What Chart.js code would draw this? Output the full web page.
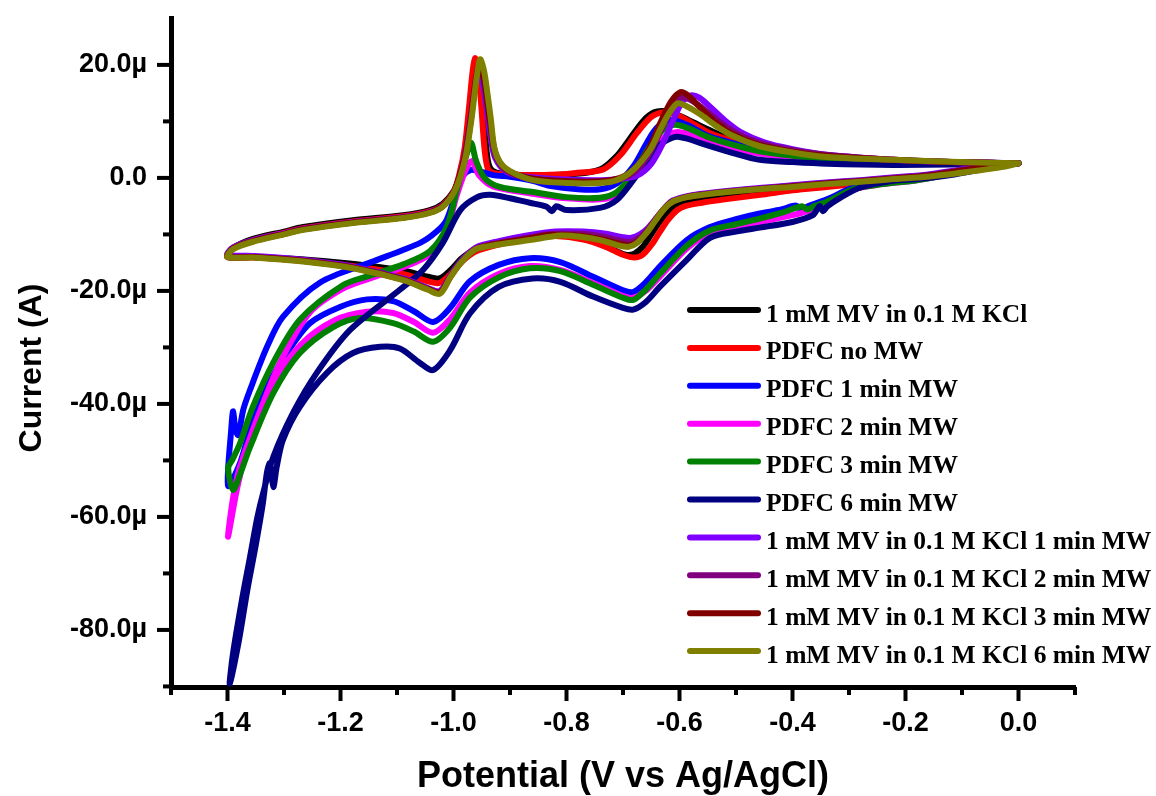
<!DOCTYPE html>
<html>
<head>
<meta charset="utf-8">
<script src="https://cdn.jsdelivr.net/npm/chart.js@4.4.1/dist/chart.umd.min.js"></script>
<style>
  html, body { margin: 0; padding: 0; background: #fff; }
  #wrap { width: 1156px; height: 796px; }
</style>
</head>
<body>
<div id="wrap"><canvas id="cv" width="1156" height="796"></canvas></div>
<script>
// potential (V) / current (µA) pairs, cathodic sweep first then back to 0 V
const mvKcl = [
  [0.0, 2.6], [-0.05, 2.1], [-0.10, 1.3], [-0.16, 0.3], [-0.22, -0.3], [-0.28, -0.9], [-0.34, -1.4], [-0.40, -1.9],
  [-0.46, -2.5], [-0.52, -3.1], [-0.56, -3.7], [-0.59, -4.4], [-0.615, -5.6], [-0.635, -7.8], [-0.65, -10.0], [-0.665, -12.2],
  [-0.68, -13.4], [-0.695, -13.6], [-0.715, -12.8], [-0.745, -11.5], [-0.78, -10.5], [-0.83, -10.2], [-0.87, -10.6], [-0.92, -11.6],
  [-0.96, -12.6], [-0.985, -14.2], [-1.005, -16.3], [-1.025, -17.8], [-1.045, -17.5], [-1.09, -16.4], [-1.18, -15.2], [-1.27, -14.4],
  [-1.355, -14.0], [-1.40, -13.9],
  [-1.39, -12.4], [-1.355, -10.8], [-1.30, -9.5], [-1.266, -8.7], [-1.178, -7.5], [-1.089, -6.6], [-1.042, -5.7], [-1.019, -4.6],
  [-1.0, -2.4], [-0.99, 0.0], [-0.98, 4.0], [-0.97, 11.0], [-0.962, 17.5], [-0.957, 20.0], [-0.951, 16.0], [-0.945, 9.0],
  [-0.939, 3.0], [-0.93, 1.2], [-0.90, 0.6], [-0.85, 0.5], [-0.80, 0.6], [-0.76, 1.0], [-0.735, 1.8], [-0.71, 4.0],
  [-0.693, 6.2], [-0.665, 10.0], [-0.645, 11.6], [-0.625, 11.8], [-0.60, 11.0], [-0.575, 9.8], [-0.55, 8.6], [-0.52, 7.3],
  [-0.47, 5.8], [-0.40, 4.6], [-0.32, 3.7], [-0.22, 3.1], [-0.12, 2.8], [0.0, 2.6]
];
const pdfcNoMw = [
  [0.0, 2.6], [-0.05, 2.1], [-0.10, 1.2], [-0.16, 0.2], [-0.22, -0.4], [-0.28, -1.0], [-0.34, -1.6], [-0.40, -2.2],
  [-0.457, -3.0], [-0.52, -3.8], [-0.56, -4.4], [-0.59, -5.0], [-0.604, -5.7], [-0.62, -7.4], [-0.635, -9.6], [-0.647, -11.5],
  [-0.665, -13.6], [-0.68, -14.1], [-0.70, -13.6], [-0.73, -12.2], [-0.77, -10.9], [-0.82, -10.3], [-0.87, -10.7], [-0.92, -11.8],
  [-0.96, -13.0], [-0.985, -14.8], [-1.005, -17.0], [-1.025, -18.6], [-1.045, -18.3], [-1.09, -17.0], [-1.18, -15.6], [-1.27, -14.6],
  [-1.355, -14.1], [-1.40, -14.0],
  [-1.39, -12.5], [-1.355, -11.0], [-1.30, -9.7], [-1.266, -8.9], [-1.178, -7.7], [-1.089, -6.8], [-1.042, -5.9], [-1.019, -4.8],
  [-1.0, -2.5], [-0.99, 0.5], [-0.98, 5.5], [-0.972, 13.0], [-0.966, 19.0], [-0.962, 21.2], [-0.957, 19.5], [-0.951, 13.0],
  [-0.945, 5.0], [-0.939, 1.6], [-0.93, 0.9], [-0.90, 0.6], [-0.85, 0.5], [-0.80, 0.7], [-0.78, 0.9], [-0.735, 1.5],
  [-0.705, 4.0], [-0.675, 8.0], [-0.65, 10.8], [-0.63, 11.6], [-0.612, 11.4], [-0.59, 10.4], [-0.546, 7.9], [-0.50, 6.4],
  [-0.45, 5.3], [-0.40, 4.5], [-0.32, 3.7], [-0.22, 3.1], [-0.12, 2.8], [0.0, 2.6]
];
const pdfc1Min = [
  [0.0, 2.6], [-0.06, 1.9], [-0.12, 0.9], [-0.18, -0.2], [-0.24, -0.8], [-0.29, -1.6], [-0.339, -3.8], [-0.372, -5.0],
  [-0.385, -5.6], [-0.394, -4.9], [-0.42, -5.6], [-0.458, -6.3], [-0.50, -7.3], [-0.546, -8.7], [-0.587, -11.0], [-0.635, -15.7],
  [-0.66, -18.5], [-0.682, -20.2], [-0.70, -19.9], [-0.753, -17.5], [-0.811, -14.9], [-0.865, -14.2], [-0.92, -15.4], [-0.971, -18.3],
  [-1.006, -23.0], [-1.036, -25.5], [-1.07, -23.6], [-1.107, -21.8], [-1.153, -21.5], [-1.20, -22.8], [-1.254, -25.7], [-1.295, -31.0],
  [-1.33, -37.0], [-1.36, -44.6], [-1.378, -50.5], [-1.399, -54.5],
  [-1.393, -44.0], [-1.39, -41.3], [-1.386, -44.5], [-1.381, -45.5], [-1.372, -41.0], [-1.36, -37.5], [-1.33, -29.9], [-1.302, -24.6],
  [-1.236, -18.5], [-1.148, -15.0], [-1.059, -11.5], [-1.03, -9.5], [-1.012, -7.4], [-0.994, -2.1], [-0.983, 0.4], [-0.97, 1.4],
  [-0.955, 1.2], [-0.93, 0.5], [-0.90, 0.2], [-0.86, -0.5], [-0.83, -1.4], [-0.78, -2.0], [-0.74, -2.0], [-0.71, -0.9],
  [-0.682, 2.0], [-0.66, 5.8], [-0.645, 8.3], [-0.627, 9.9], [-0.61, 10.2], [-0.585, 9.3], [-0.546, 7.3], [-0.50, 6.0],
  [-0.458, 5.0], [-0.40, 4.2], [-0.339, 3.5], [-0.222, 3.0], [-0.10, 2.8], [0.0, 2.6]
];
const pdfc2Min = [
  [0.0, 2.6], [-0.06, 1.8], [-0.12, 0.7], [-0.18, -0.4], [-0.24, -1.1], [-0.29, -2.0], [-0.339, -4.6], [-0.37, -5.8],
  [-0.40, -6.6], [-0.458, -7.8], [-0.50, -8.7], [-0.546, -9.8], [-0.587, -12.5], [-0.635, -17.5], [-0.66, -20.0], [-0.682, -21.2],
  [-0.70, -20.9], [-0.753, -18.6], [-0.811, -16.3], [-0.865, -15.6], [-0.92, -17.0], [-0.971, -20.3], [-1.006, -25.0], [-1.036, -27.4],
  [-1.07, -25.5], [-1.107, -23.9], [-1.153, -23.7], [-1.21, -25.2], [-1.27, -29.5], [-1.32, -36.5], [-1.36, -46.0], [-1.382, -54.5],
  [-1.399, -63.5],
  [-1.39, -56.5], [-1.378, -51.2], [-1.348, -42.8], [-1.307, -32.7], [-1.254, -23.8], [-1.196, -19.6], [-1.148, -17.8], [-1.089, -15.8],
  [-1.042, -13.5], [-1.012, -9.0], [-0.994, -3.0], [-0.978, 1.5], [-0.967, 3.0], [-0.955, 0.5], [-0.93, -1.5], [-0.86, -2.8],
  [-0.80, -3.6], [-0.74, -3.8], [-0.71, -2.8], [-0.68, 0.5], [-0.65, 4.5], [-0.625, 7.3], [-0.605, 8.1], [-0.58, 7.6],
  [-0.546, 6.3], [-0.50, 5.1], [-0.458, 4.3], [-0.40, 3.6], [-0.339, 3.1], [-0.222, 2.7], [-0.10, 2.6], [0.0, 2.6]
];
const pdfc3Min = [
  [0.0, 2.6], [-0.06, 1.8], [-0.12, 0.7], [-0.18, -0.4], [-0.24, -1.1], [-0.29, -1.9], [-0.339, -4.2], [-0.362, -5.0],
  [-0.374, -5.6], [-0.383, -5.0], [-0.42, -6.2], [-0.458, -7.2], [-0.50, -8.2], [-0.546, -9.3], [-0.587, -12.0], [-0.635, -17.0],
  [-0.66, -19.8], [-0.682, -21.6], [-0.70, -21.2], [-0.753, -18.9], [-0.811, -16.5], [-0.865, -16.0], [-0.92, -17.6], [-0.971, -21.2],
  [-1.006, -26.5], [-1.036, -29.0], [-1.07, -27.2], [-1.107, -25.7], [-1.165, -24.8], [-1.213, -26.4], [-1.272, -31.0], [-1.319, -38.1],
  [-1.36, -47.6], [-1.378, -52.5], [-1.39, -55.2], [-1.399, -51.3],
  [-1.392, -50.0], [-1.378, -47.0], [-1.355, -40.5], [-1.319, -32.7], [-1.272, -25.1], [-1.196, -19.0], [-1.148, -17.3], [-1.089, -15.3],
  [-1.042, -13.0], [-1.012, -8.7], [-0.994, -2.1], [-0.98, 3.0], [-0.969, 6.2], [-0.96, 3.0], [-0.945, 0.0], [-0.918, -1.6],
  [-0.859, -2.5], [-0.80, -3.4], [-0.741, -3.5], [-0.711, -2.5], [-0.682, 0.9], [-0.653, 5.5], [-0.628, 8.6], [-0.608, 9.4],
  [-0.585, 8.8], [-0.546, 7.1], [-0.50, 5.7], [-0.458, 4.7], [-0.40, 3.9], [-0.339, 3.3], [-0.222, 2.8], [-0.10, 2.7], [0.0, 2.6]
];
const pdfc6Min = [
  [0.0, 2.6], [-0.06, 1.6], [-0.12, 0.5], [-0.18, -0.2], [-0.222, -0.5], [-0.28, -1.7], [-0.32, -3.8], [-0.339, -5.1],
  [-0.346, -5.9], [-0.352, -5.0], [-0.364, -6.6], [-0.40, -7.8], [-0.458, -8.8], [-0.50, -9.5], [-0.546, -10.6], [-0.587, -14.5],
  [-0.635, -19.3], [-0.66, -22.0], [-0.682, -23.3], [-0.70, -23.0], [-0.753, -21.0], [-0.811, -18.4], [-0.86, -17.8], [-0.92, -19.3],
  [-0.971, -24.0], [-1.006, -30.5], [-1.036, -34.0], [-1.06, -32.7], [-1.095, -30.2], [-1.13, -29.9], [-1.178, -31.0], [-1.224, -34.5],
  [-1.272, -40.5], [-1.302, -46.4], [-1.313, -51.2], [-1.319, -54.7], [-1.325, -50.5], [-1.33, -52.0], [-1.338, -58.0], [-1.35, -65.0],
  [-1.365, -73.0], [-1.38, -82.0], [-1.396, -89.5],
  [-1.39, -84.0], [-1.375, -75.0], [-1.36, -67.0], [-1.347, -60.0], [-1.337, -55.8], [-1.319, -49.4], [-1.284, -41.6], [-1.242, -34.5],
  [-1.183, -26.9], [-1.095, -19.8], [-1.054, -16.3], [-1.019, -11.5], [-0.988, -5.7], [-0.958, -3.4], [-0.935, -3.0], [-0.90, -3.6],
  [-0.865, -4.4], [-0.835, -5.1], [-0.826, -5.9], [-0.818, -5.0], [-0.80, -5.7], [-0.741, -5.3], [-0.711, -3.9], [-0.682, -0.4],
  [-0.652, 3.7], [-0.635, 5.8], [-0.622, 6.7], [-0.605, 7.3], [-0.585, 6.9], [-0.564, 6.2], [-0.505, 4.4], [-0.458, 3.2],
  [-0.40, 2.8], [-0.339, 2.5], [-0.222, 2.3], [-0.10, 2.4], [0.0, 2.6]
];
const mv1Min = [
  [0.0, 2.6], [-0.05, 2.2], [-0.10, 1.5], [-0.16, 0.6], [-0.22, 0.1], [-0.28, -0.4], [-0.34, -0.8], [-0.40, -1.3],
  [-0.46, -1.8], [-0.516, -2.3], [-0.56, -2.8], [-0.59, -3.3], [-0.612, -4.0], [-0.625, -5.2], [-0.64, -7.0], [-0.655, -8.8],
  [-0.67, -10.0], [-0.685, -10.6], [-0.70, -10.5], [-0.73, -9.9], [-0.77, -9.5], [-0.82, -9.5], [-0.87, -10.2], [-0.92, -11.2],
  [-0.96, -12.3], [-0.985, -14.5], [-1.005, -17.2], [-1.024, -20.0], [-1.045, -19.5], [-1.089, -17.8], [-1.178, -15.7], [-1.266, -14.5],
  [-1.355, -13.8], [-1.40, -13.6],
  [-1.39, -12.3], [-1.355, -11.0], [-1.30, -9.8], [-1.266, -9.0], [-1.178, -7.8], [-1.089, -6.9], [-1.042, -6.0], [-1.019, -4.9],
  [-1.0, -2.6], [-0.99, 0.0], [-0.98, 4.0], [-0.97, 10.0], [-0.962, 16.0], [-0.955, 19.0], [-0.948, 16.5], [-0.941, 12.0],
  [-0.934, 7.0], [-0.926, 3.5], [-0.905, 1.0], [-0.87, 0.2], [-0.80, -0.3], [-0.74, -0.4], [-0.70, -0.1], [-0.675, 0.4],
  [-0.65, 2.5], [-0.63, 6.0], [-0.61, 10.5], [-0.595, 13.5], [-0.58, 14.6], [-0.565, 14.2], [-0.545, 12.5], [-0.52, 10.2],
  [-0.49, 8.0], [-0.45, 6.3], [-0.40, 5.1], [-0.34, 4.1], [-0.22, 3.2], [-0.12, 2.8], [0.0, 2.6]
];
const mv2Min = [
  [0.0, 2.6], [-0.05, 2.1], [-0.10, 1.4], [-0.16, 0.5], [-0.22, 0.0], [-0.28, -0.5], [-0.34, -0.9], [-0.40, -1.4],
  [-0.46, -1.9], [-0.516, -2.4], [-0.56, -2.9], [-0.59, -3.4], [-0.613, -4.2], [-0.628, -5.5], [-0.643, -7.4], [-0.658, -9.4],
  [-0.673, -10.7], [-0.688, -11.3], [-0.705, -11.1], [-0.735, -10.4], [-0.775, -9.9], [-0.825, -9.9], [-0.87, -10.6], [-0.92, -11.5],
  [-0.96, -12.5], [-0.985, -14.7], [-1.005, -17.4], [-1.024, -20.2], [-1.045, -19.6], [-1.089, -17.9], [-1.178, -15.8], [-1.266, -14.6],
  [-1.355, -14.0], [-1.40, -13.9],
  [-1.39, -12.4], [-1.355, -11.1], [-1.30, -9.9], [-1.266, -9.1], [-1.178, -7.9], [-1.089, -7.0], [-1.042, -6.1], [-1.019, -5.0],
  [-1.0, -2.6], [-0.99, 0.1], [-0.98, 4.0], [-0.97, 10.5], [-0.961, 17.0], [-0.954, 20.0], [-0.947, 17.5], [-0.94, 13.0],
  [-0.933, 8.0], [-0.925, 3.8], [-0.905, 1.2], [-0.87, 0.0], [-0.80, -0.6], [-0.74, -0.7], [-0.705, -0.2], [-0.68, 1.0],
  [-0.655, 4.0], [-0.635, 8.0], [-0.615, 12.0], [-0.598, 14.2], [-0.585, 14.0], [-0.565, 12.8], [-0.54, 10.8], [-0.51, 8.6],
  [-0.47, 6.6], [-0.42, 5.3], [-0.35, 4.2], [-0.22, 3.2], [-0.12, 2.8], [0.0, 2.6]
];
const mv3Min = [
  [0.0, 2.6], [-0.05, 2.0], [-0.10, 1.3], [-0.16, 0.4], [-0.22, -0.1], [-0.28, -0.6], [-0.34, -1.0], [-0.40, -1.5],
  [-0.46, -2.0], [-0.516, -2.5], [-0.56, -3.0], [-0.59, -3.5], [-0.614, -4.3], [-0.629, -5.7], [-0.644, -7.7], [-0.659, -9.8],
  [-0.674, -11.3], [-0.689, -11.9], [-0.708, -11.6], [-0.74, -10.8], [-0.78, -10.2], [-0.83, -10.1], [-0.87, -10.8], [-0.92, -11.6],
  [-0.96, -12.6], [-0.985, -14.8], [-1.005, -17.4], [-1.024, -20.3], [-1.045, -19.7], [-1.089, -18.0], [-1.178, -15.9], [-1.266, -14.7],
  [-1.355, -14.0], [-1.40, -14.0],
  [-1.39, -12.5], [-1.355, -11.2], [-1.30, -9.9], [-1.266, -9.1], [-1.178, -7.9], [-1.089, -7.0], [-1.042, -6.1], [-1.019, -5.0],
  [-1.0, -2.6], [-0.99, 0.1], [-0.979, 4.0], [-0.969, 10.5], [-0.961, 17.0], [-0.954, 20.5], [-0.947, 18.0], [-0.941, 14.0],
  [-0.934, 9.0], [-0.926, 4.5], [-0.908, 1.6], [-0.87, 0.1], [-0.80, -0.6], [-0.74, -0.6], [-0.705, 0.0], [-0.68, 1.6],
  [-0.655, 5.0], [-0.635, 9.5], [-0.615, 13.5], [-0.598, 15.2], [-0.585, 14.6], [-0.565, 12.6], [-0.54, 10.2], [-0.51, 8.0],
  [-0.47, 6.2], [-0.42, 5.0], [-0.35, 4.0], [-0.22, 3.2], [-0.12, 2.8], [0.0, 2.6]
];
const mv6Min = [
  [0.0, 2.6], [-0.03, 1.9], [-0.08, 1.2], [-0.162, 0.2], [-0.22, -0.2], [-0.28, -0.7], [-0.34, -1.1], [-0.40, -1.6],
  [-0.46, -2.0], [-0.516, -2.5], [-0.56, -3.0], [-0.587, -3.4], [-0.612, -4.2], [-0.629, -5.7], [-0.643, -7.6], [-0.658, -9.7],
  [-0.675, -11.5], [-0.69, -12.2], [-0.71, -11.9], [-0.74, -11.0], [-0.776, -10.4], [-0.81, -10.2], [-0.865, -11.0], [-0.92, -11.8],
  [-0.96, -12.6], [-0.985, -14.8], [-1.005, -17.5], [-1.024, -20.5], [-1.045, -19.8], [-1.089, -18.1], [-1.178, -16.0], [-1.266, -14.8],
  [-1.355, -14.1], [-1.40, -14.0],
  [-1.39, -12.6], [-1.355, -11.3], [-1.30, -10.0], [-1.266, -9.2], [-1.178, -8.0], [-1.089, -7.1], [-1.042, -6.2], [-1.019, -5.1],
  [-1.0, -2.7], [-0.988, 0.2], [-0.978, 4.0], [-0.968, 10.5], [-0.96, 17.0], [-0.953, 21.0], [-0.946, 19.0], [-0.94, 15.0],
  [-0.934, 10.5], [-0.928, 5.5], [-0.918, 2.8], [-0.90, 1.2], [-0.859, -0.4], [-0.80, -0.9], [-0.741, -0.9], [-0.711, -0.4],
  [-0.682, 1.4], [-0.652, 5.0], [-0.635, 8.4], [-0.62, 11.2], [-0.604, 13.2], [-0.59, 12.8], [-0.564, 11.3], [-0.535, 9.2],
  [-0.505, 7.4], [-0.458, 5.6], [-0.40, 4.5], [-0.339, 3.7], [-0.222, 3.2], [-0.104, 2.8], [0.0, 2.6]
];

const seriesLabels = [
  "1 mM MV in 0.1 M KCl",
  "PDFC no MW",
  "PDFC 1 min MW",
  "PDFC 2 min MW",
  "PDFC 3 min MW",
  "PDFC 6 min MW",
  "1 mM MV in 0.1 M KCl 1 min MW",
  "1 mM MV in 0.1 M KCl 2 min MW",
  "1 mM MV in 0.1 M KCl 3 min MW",
  "1 mM MV in 0.1 M KCl 6 min MW"
];
const seriesData = [mvKcl, pdfcNoMw, pdfc1Min, pdfc2Min, pdfc3Min, pdfc6Min, mv1Min, mv2Min, mv3Min, mv6Min];
const seriesColors = ["#000000", "#ff0000", "#0000ff", "#ff00ff", "#008000", "#000080", "#8000ff", "#800080", "#800000", "#808000"];

const xTickValues = [-1.5, -1.4, -1.3, -1.2, -1.1, -1.0, -0.9, -0.8, -0.7, -0.6, -0.5, -0.4, -0.3, -0.2, -0.1, 0.0, 0.1];
const xTickLabels = ["", "-1.4", "", "-1.2", "", "-1.0", "", "-0.8", "", "-0.6", "", "-0.4", "", "-0.2", "", "0.0", ""];
const yTickValues = [-90, -80, -70, -60, -50, -40, -30, -20, -10, 0, 10, 20];
const yTickLabels = ["", "-80.0\u00b5", "", "-60.0\u00b5", "", "-40.0\u00b5", "", "-20.0\u00b5", "", "0.0", "", "20.0\u00b5"];

const tickFont = { family: "'Liberation Sans', Arial, sans-serif", size: 27, weight: "bold" };

// tick marks, axis titles and legend
const cvDecor = {
  id: "cvDecor",
  afterDraw(chart) {
    const ctx = chart.ctx;
    const area = chart.chartArea;
    const xs = chart.scales.x;
    const ys = chart.scales.y;
    ctx.save();
    ctx.strokeStyle = "#000";
    ctx.lineWidth = 4;
    xTickValues.forEach((v, i) => {
      const px = xs.getPixelForValue(v);
      const len = xTickLabels[i] ? 14 : 8;
      ctx.beginPath();
      ctx.moveTo(px, area.bottom);
      ctx.lineTo(px, area.bottom + len);
      ctx.stroke();
    });
    yTickValues.forEach((v, i) => {
      const py = ys.getPixelForValue(v);
      const len = yTickLabels[i] ? 14 : 8;
      ctx.beginPath();
      ctx.moveTo(area.left, py);
      ctx.lineTo(area.left - len, py);
      ctx.stroke();
    });

    ctx.fillStyle = "#000";
    ctx.textAlign = "center";
    ctx.textBaseline = "alphabetic";
    ctx.font = "bold 36px 'Liberation Sans', Arial, sans-serif";
    ctx.fillText("Potential (V vs Ag/AgCl)", (area.left + area.right) / 2, 787);
    ctx.save();
    ctx.translate(41, 368);
    ctx.rotate(-Math.PI / 2);
    ctx.font = "bold 32px 'Liberation Sans', Arial, sans-serif";
    ctx.fillText("Current (A)", 0, 0);
    ctx.restore();

    ctx.textAlign = "left";
    ctx.font = "bold 25.5px 'Liberation Serif', 'Times New Roman', serif";
    ctx.lineCap = "round";
    ctx.lineWidth = 6;
    chart.data.datasets.forEach((ds, i) => {
      const rowY = 310 + i * 37.9;
      ctx.strokeStyle = ds.borderColor;
      ctx.beginPath();
      ctx.moveTo(690, rowY);
      ctx.lineTo(758, rowY);
      ctx.stroke();
      ctx.fillText(ds.label, 766, rowY + 11.5);
    });
    ctx.restore();
  }
};

// later series are painted over earlier ones, as in the original plot
const datasets = seriesData.map((pts, i) => ({
  label: seriesLabels[i],
  data: pts.map(p => ({ x: p[0], y: p[1] })),
  order: seriesData.length - i,
  showLine: true,
  borderColor: seriesColors[i],
  backgroundColor: seriesColors[i],
  borderWidth: 6,
  pointRadius: 0,
  tension: 0.3,
  borderCapStyle: "round",
  borderJoinStyle: "round",
  fill: false
}));

new Chart(document.getElementById("cv"), {
  type: "scatter",
  data: { datasets: datasets },
  options: {
    responsive: false,
    animation: false,
    layout: { padding: { top: 18, right: 81, left: 0, bottom: 0 } },
    plugins: { legend: { display: false }, tooltip: { enabled: false } },
    scales: {
      x: {
        type: "linear",
        position: "bottom",
        min: -1.5,
        max: 0.1,
        afterBuildTicks(s) { s.ticks = xTickValues.map(v => ({ value: v })); },
        afterFit(s) { s.height = 109; s.paddingLeft = 0; s.paddingRight = 0; },
        grid: { display: false, drawTicks: false },
        border: { display: true, color: "#000", width: 5 },
        ticks: {
          autoSkip: false,
          maxRotation: 0,
          padding: 20,
          color: "#000",
          font: tickFont,
          callback: (v, i) => xTickLabels[i]
        }
      },
      y: {
        type: "linear",
        position: "left",
        min: -90.1,
        max: 28.3,
        afterBuildTicks(s) { s.ticks = yTickValues.map(v => ({ value: v })); },
        afterFit(s) { s.width = 171; s.paddingTop = 0; s.paddingBottom = 0; },
        grid: { display: false, drawTicks: false },
        border: { display: true, color: "#000", width: 5 },
        ticks: {
          autoSkip: false,
          padding: 24,
          color: "#000",
          font: tickFont,
          callback: (v, i) => yTickLabels[i]
        }
      }
    }
  },
  plugins: [cvDecor]
});
</script>
</body>
</html>
